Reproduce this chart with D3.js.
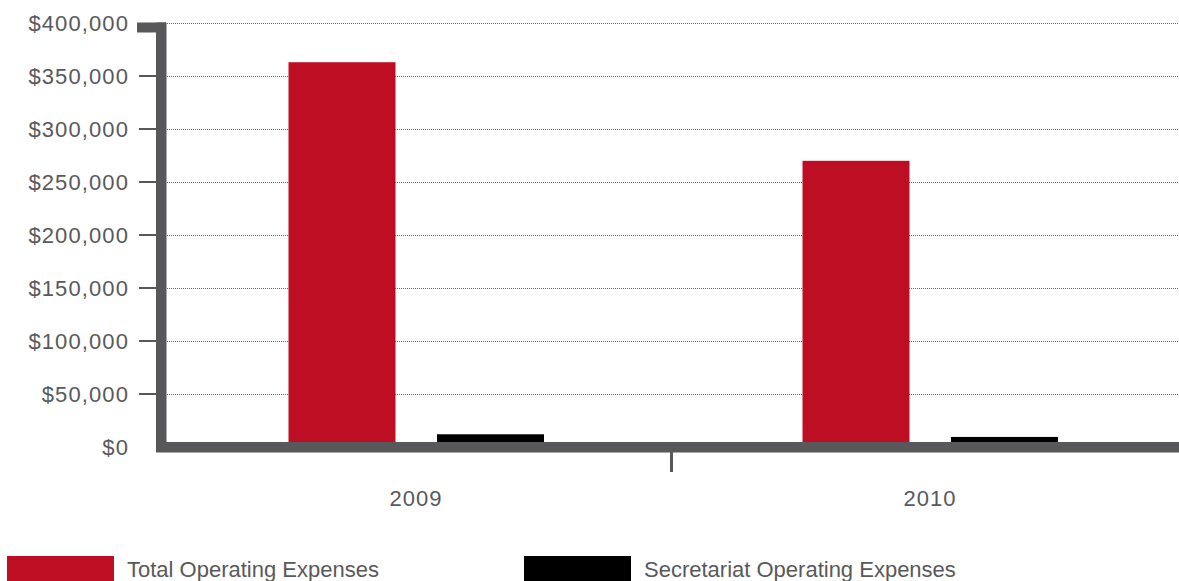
<!DOCTYPE html>
<html>
<head>
<meta charset="utf-8">
<script src="https://cdn.jsdelivr.net/npm/d3@7"></script>
<style>
  html, body { margin: 0; padding: 0; background: #fff; }
  svg { display: block; }
  text { font-family: "Liberation Sans", Arial, Helvetica, sans-serif; fill: #58595b; }
</style>
</head>
<body>
<svg id="chart" width="1179" height="581"></svg>
<script>
// Operating expenses by year
const years = ["2009", "2010"];
const seriesNames = ["Total Operating Expenses", "Secretariat Operating Expenses"];
const totalExpenses = [363000, 270000];
const secretariatExpenses = [12000, 9500];
const yTicks = [0, 50000, 100000, 150000, 200000, 250000, 300000, 350000, 400000];
const seriesColors = ["#be0e24", "#000000"];

const rows = years.map((yr, i) => ({
  year: yr,
  values: [
    { key: seriesNames[0], value: totalExpenses[i] },
    { key: seriesNames[1], value: secretariatExpenses[i] }
  ]
}));

const svg = d3.select("#chart");
const axisGray = "#58585a";

const y = d3.scaleLinear().domain([0, 400000]).range([447, 23]);
const x0 = d3.scaleBand().domain(years).range([158, 1186]).padding(0);
// bars sit inside each year band, leaving a wide margin on both sides
const x1 = d3.scaleBand().domain(seriesNames)
  .range([130.5, 386])
  .paddingInner(0.2795)
  .paddingOuter(0);
const color = d3.scaleOrdinal().domain(seriesNames).range(seriesColors);

const fmt = v => "$" + d3.format(",")(v);

// dotted gridlines
svg.append("g").selectAll("line")
  .data(yTicks.filter(t => t > 0))
  .join("line")
  .attr("x1", 167).attr("x2", 1179)
  .attr("y1", d => Math.round(y(d)) + 0.5)
  .attr("y2", d => Math.round(y(d)) + 0.5)
  .attr("stroke", "#6e6e6e")
  .attr("stroke-width", 1)
  .attr("stroke-dasharray", "1 1");

// bars
const groups = svg.append("g").selectAll("g")
  .data(rows)
  .join("g")
  .attr("transform", d => `translate(${x0(d.year)},0)`);

groups.selectAll("rect")
  .data(d => d.values)
  .join("rect")
  .attr("x", d => x1(d.key))
  .attr("width", x1.bandwidth())
  .attr("y", d => y(d.value))
  .attr("height", d => y(0) - y(d.value))
  .attr("fill", d => color(d.key));

// y axis: thin ticks, thick cap at the top, thick vertical rule
const yAxisG = svg.append("g");
yAxisG.selectAll("line.tick")
  .data(yTicks.filter(t => t > 0 && t < 400000))
  .join("line")
  .attr("class", "tick")
  .attr("x1", 139).attr("x2", 157)
  .attr("y1", d => y(d)).attr("y2", d => y(d))
  .attr("stroke", axisGray)
  .attr("stroke-width", 2);

yAxisG.append("rect")
  .attr("x", 137).attr("y", y(400000) - 0.5)
  .attr("width", 29).attr("height", 10)
  .attr("fill", axisGray);

yAxisG.append("rect")
  .attr("x", 156).attr("y", y(400000) - 0.5)
  .attr("width", 10.5).attr("height", 452.5 - y(400000))
  .attr("fill", axisGray);

yAxisG.selectAll("text")
  .data(yTicks)
  .join("text")
  .attr("x", 129)
  .attr("y", d => y(d))
  .attr("dy", "0.36em")
  .attr("text-anchor", "end")
  .style("font-size", "22px")
  .style("letter-spacing", "1.1px")
  .text(fmt);

// x axis band and category divider
const xAxisG = svg.append("g");
xAxisG.append("rect")
  .attr("x", 156).attr("y", y(0) - 5)
  .attr("width", 1179 - 156).attr("height", 10.5)
  .attr("fill", axisGray);

xAxisG.selectAll("line")
  .data(years.slice(1))
  .join("line")
  .attr("x1", d => x0(d) - 0.5).attr("x2", d => x0(d) - 0.5)
  .attr("y1", y(0) + 5).attr("y2", 472)
  .attr("stroke", axisGray)
  .attr("stroke-width", 3);

xAxisG.selectAll("text")
  .data(years)
  .join("text")
  .attr("x", d => x0(d) + x0.bandwidth() / 2 + 1)
  .attr("y", 506)
  .attr("text-anchor", "middle")
  .style("font-size", "22px")
  .style("letter-spacing", "1px")
  .text(d => d);

// legend
const legendX = [7, 524];
const legend = svg.append("g").selectAll("g")
  .data(seriesNames)
  .join("g")
  .attr("transform", (d, i) => `translate(${legendX[i]},556)`);

legend.append("rect")
  .attr("width", 107).attr("height", 25)
  .attr("fill", d => color(d));

legend.append("text")
  .attr("x", 120)
  .attr("y", 20.5)
  .style("font-size", "22px")
  .text(d => d);
</script>
</body>
</html>
